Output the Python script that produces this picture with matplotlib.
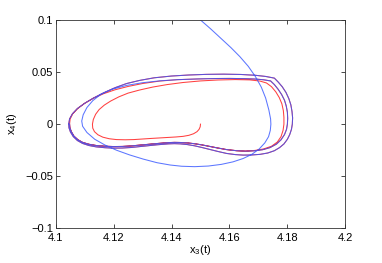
import matplotlib
matplotlib.use("Agg")
import matplotlib.pyplot as plt

plt.rcParams['font.family'] = ['Liberation Sans', 'DejaVu Sans']
plt.rcParams['mathtext.default'] = 'regular'

# ---- data ----
red_start_x = [4.1500, 4.1499, 4.1495, 4.1488, 4.1476, 4.1460, 4.1440, 4.1415, 4.1390, 4.1360,
               4.1330, 4.1300, 4.1270, 4.1240, 4.1210, 4.1185, 4.1163, 4.1146, 4.1134, 4.1128,
               4.1127, 4.1130, 4.1138, 4.1150, 4.1168, 4.1190, 4.1218, 4.1250, 4.1290, 4.1335,
               4.1385, 4.1440, 4.1500, 4.1560, 4.1620, 4.1670, 4.1705, 4.1728, 4.1745, 4.1760,
               4.1772, 4.1781, 4.1786, 4.1788, 4.1788, 4.1785, 4.1778, 4.1765, 4.1745, 4.1718,
               4.1688]
red_start_y = [0.0000, -0.0025, -0.0050, -0.0072, -0.0092, -0.0107, -0.0117, -0.0123, -0.0127, -0.0131,
               -0.0137, -0.0143, -0.0148, -0.0150, -0.0148, -0.0140, -0.0125, -0.0102, -0.0072, -0.0038,
               0.0000, 0.0045, 0.0095, 0.0140, 0.0183, 0.0222, 0.0262, 0.0298, 0.0328, 0.0356,
               0.0380, 0.0400, 0.0415, 0.0424, 0.0428, 0.0425, 0.0414, 0.0395, 0.0360, 0.0310,
               0.0255, 0.0195, 0.0130, 0.0065, 0.0000, -0.0060, -0.0120, -0.0172, -0.0212, -0.0238,
               -0.0252]

blue_start_x = [4.1500, 4.1535, 4.1570, 4.1605, 4.1636, 4.1665, 4.1690, 4.1710, 4.1725, 4.1736,
                4.1742, 4.1743, 4.1741, 4.1735, 4.1722, 4.1702, 4.1677, 4.1647, 4.1612, 4.1572,
                4.1527, 4.1480, 4.1435, 4.1395, 4.1350, 4.1302, 4.1255, 4.1210, 4.1170, 4.1135,
                4.1108, 4.1093, 4.1090, 4.1095, 4.1108, 4.1128, 4.1155, 4.1195, 4.1245, 4.1300,
                4.1360, 4.1420, 4.1490, 4.1550]
blue_start_y = [0.1000, 0.0915, 0.0825, 0.0735, 0.0648, 0.0555, 0.0455, 0.0355, 0.0250, 0.0136,
                0.0050, 0.0000, -0.0060, -0.0120, -0.0180, -0.0240, -0.0290, -0.0330, -0.0362, -0.0386,
                -0.0402, -0.0408, -0.0404, -0.0392, -0.0370, -0.0335, -0.0295, -0.0250, -0.0200, -0.0145,
                -0.0080, -0.0020, 0.0030, 0.0090, 0.0160, 0.0225, 0.0285, 0.0335, 0.0372, 0.0398,
                0.0416, 0.0427, 0.0434, 0.0438]

inner_top_x = [4.1048, 4.1050, 4.1059, 4.1076, 4.1100, 4.1130, 4.1165, 4.1205, 4.1250, 4.1300,
               4.1360, 4.1420, 4.1490, 4.1550, 4.1600, 4.1650, 4.1690, 4.1718, 4.1742]
inner_top_y = [0.0000, 0.0050, 0.0100, 0.0150, 0.0200, 0.0248, 0.0292, 0.0330, 0.0362, 0.0390,
               0.0414, 0.0427, 0.0434, 0.0438, 0.0439, 0.0437, 0.0433, 0.0426, 0.0415]

inner_bot_x = [4.1742, 4.1755, 4.1768, 4.1780, 4.1790, 4.1796, 4.1800, 4.1801, 4.1800, 4.1797,
               4.1790, 4.1778, 4.1762, 4.1740, 4.1715, 4.1685, 4.1655, 4.1625, 4.1590, 4.1560,
               4.1533, 4.1505, 4.1480, 4.1455, 4.1430, 4.1410, 4.1390, 4.1370, 4.1350, 4.1320,
               4.1290, 4.1260, 4.1230, 4.1200, 4.1170, 4.1140, 4.1115, 4.1093, 4.1077, 4.1063,
               4.1054, 4.1049, 4.1048]
inner_bot_y = [0.0415, 0.0380, 0.0335, 0.0285, 0.0230, 0.0175, 0.0115, 0.0055, 0.0000, -0.0050,
               -0.0100, -0.0150, -0.0192, -0.0225, -0.0245, -0.0256, -0.0259, -0.0255, -0.0244, -0.0229,
               -0.0214, -0.0199, -0.0188, -0.0180, -0.0176, -0.0175, -0.0177, -0.0181, -0.0186, -0.0194,
               -0.0202, -0.0209, -0.0214, -0.0215, -0.0212, -0.0205, -0.0193, -0.0175, -0.0150, -0.0115,
               -0.0072, -0.0033, 0.0000]

outer_top_x = [4.1045, 4.1048, 4.1058, 4.1075, 4.1100, 4.1130, 4.1165, 4.1205, 4.1245, 4.1290,
               4.1340, 4.1400, 4.1460, 4.1520, 4.1580, 4.1640, 4.1690, 4.1725, 4.1755]
outer_top_y = [0.0000, 0.0050, 0.0100, 0.0150, 0.0200, 0.0250, 0.0300, 0.0350, 0.0390, 0.0420,
               0.0445, 0.0462, 0.0472, 0.0478, 0.0480, 0.0477, 0.0469, 0.0458, 0.0442]

outer_bot_x = [4.1755, 4.1768, 4.1782, 4.1795, 4.1805, 4.1812, 4.1816, 4.1818, 4.1817, 4.1814,
               4.1808, 4.1800, 4.1788, 4.1773, 4.1755, 4.1732, 4.1705, 4.1675, 4.1647, 4.1620,
               4.1590, 4.1560, 4.1533, 4.1505, 4.1480, 4.1455, 4.1430, 4.1410, 4.1390, 4.1370,
               4.1350, 4.1320, 4.1290, 4.1260, 4.1230, 4.1200, 4.1170, 4.1140, 4.1115, 4.1093,
               4.1075, 4.1061, 4.1051, 4.1046, 4.1045]
outer_bot_y = [0.0442, 0.0405, 0.0360, 0.0305, 0.0245, 0.0185, 0.0120, 0.0060, 0.0000, -0.0050,
               -0.0100, -0.0145, -0.0190, -0.0225, -0.0255, -0.0277, -0.0290, -0.0296, -0.0297, -0.0292,
               -0.0281, -0.0262, -0.0243, -0.0224, -0.0208, -0.0196, -0.0189, -0.0187, -0.0189, -0.0193,
               -0.0198, -0.0207, -0.0216, -0.0224, -0.0229, -0.0230, -0.0226, -0.0218, -0.0205, -0.0185,
               -0.0157, -0.0120, -0.0075, -0.0035, 0.0000]

x_ticks = [4.1, 4.12, 4.14, 4.16, 4.18, 4.2]
x_tick_labels = ['4.1', '4.12', '4.14', '4.16', '4.18', '4.2']
y_ticks = [-0.1, -0.05, 0, 0.05, 0.1]
y_tick_labels = ['\u22120.1', '\u22120.05', '0', '0.05', '0.1']

# ---- assemble trajectories ----
red_x = red_start_x + inner_bot_x[16:] + outer_top_x + outer_bot_x + inner_top_x + inner_bot_x
red_y = red_start_y + inner_bot_y[16:] + outer_top_y + outer_bot_y + inner_top_y + inner_bot_y
blue_x = blue_start_x + inner_top_x[14:] + inner_bot_x + outer_top_x + outer_bot_x
blue_y = blue_start_y + inner_top_y[14:] + inner_bot_y + outer_top_y + outer_bot_y

fig = plt.figure(figsize=(3.82, 2.63), dpi=100)
ax = fig.add_axes([0.1457, 0.1318, 0.9040 - 0.1457, 0.924 - 0.1318])

ax.plot(red_x, red_y, color=(1.0, 0.25, 0.25), lw=0.75, solid_joinstyle='round')
ax.plot(blue_x, blue_y, color=(0.2, 0.33, 1.0), lw=0.75, alpha=0.8, solid_joinstyle='round')

ax.set_xlim(4.1, 4.2)
ax.set_ylim(-0.1, 0.1)
ax.set_xticks(x_ticks)
ax.set_xticklabels(x_tick_labels)
ax.set_yticks(y_ticks)
ax.set_yticklabels(y_tick_labels)
ax.tick_params(direction='in', length=3, width=0.5, labelsize=8, top=True, right=True,
               pad=2, colors='black')
ax.tick_params(axis='x', pad=3)
for s in ax.spines.values():
    s.set_linewidth(0.6)
    s.set_color('#333333')

ax.set_xlabel('x$_3$(t)', fontsize=8, labelpad=0)
ax.set_ylabel('x$_4$(t)', fontsize=8, labelpad=4)

fig.savefig('out.png', dpi=100)
